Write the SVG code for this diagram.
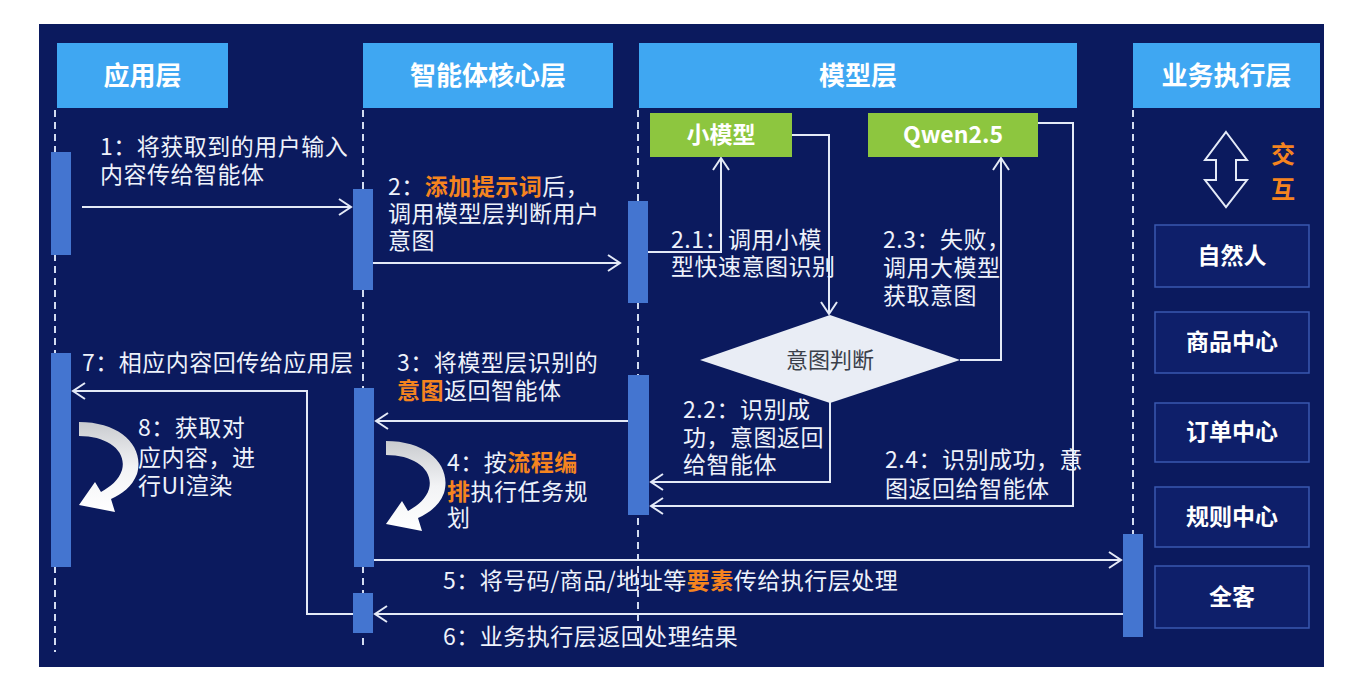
<svg xmlns="http://www.w3.org/2000/svg" width="1362" height="684" viewBox="0 0 1362 684">
<defs>
<style>
.hdr{fill:#3fa7f2}
.hdrt{font-family:"Noto Sans CJK SC","Noto Sans",sans-serif;font-size:26px;font-weight:bold;fill:#ffffff;text-anchor:middle}
.t{font-family:"Noto Sans CJK SC","Noto Sans",sans-serif;font-size:23px;letter-spacing:0.5px;fill:#eef2fb}
.o{fill:#f5841f;font-weight:bold}
.bar{fill:#4475d0}
.life{stroke:#d3dcf0;stroke-width:2;stroke-dasharray:7 5;fill:none}
.ln{stroke:#e4eaf7;stroke-width:2;fill:none}
.arr{marker-end:url(#ah)}
.green{fill:#8dc63f}
.gt{font-family:"Noto Sans CJK SC","Noto Sans",sans-serif;font-size:23px;font-weight:bold;fill:#ffffff;text-anchor:middle}
.box{fill:#0e1f6a;stroke:#3a58b0;stroke-width:1.5}
.bt{font-family:"Noto Sans CJK SC","Noto Sans",sans-serif;font-size:23px;font-weight:bold;fill:#ffffff;text-anchor:middle}
</style>
<marker id="ah" markerUnits="userSpaceOnUse" markerWidth="16" markerHeight="18" refX="13" refY="9" orient="auto">
<path d="M1,1 L13,9 L1,17" fill="none" stroke="#e4eaf7" stroke-width="2"/>
</marker>
<linearGradient id="cg" x1="0" y1="0" x2="0" y2="1">
<stop offset="0" stop-color="#c9cbcf"/>
<stop offset="0.5" stop-color="#f2f3f5"/>
<stop offset="1" stop-color="#ffffff"/>
</linearGradient>
<path id="curl" d="M0 0 C42 0 66 25 58 52 C53 65 43 72 32 77 L36 90 L0 83 L16 60 L22 70 C31 65 40 58 43 48 C48 29 29 14 0 14 Z" fill="url(#cg)"/>
</defs>

<rect x="39" y="24" width="1285" height="643" fill="#0b1a5e"/>

<g id="lifelines">
<line class="life" x1="55" y1="110" x2="55" y2="652"/>
<line class="life" x1="363" y1="110" x2="363" y2="648"/>
<line class="life" x1="638" y1="110" x2="638" y2="648"/>
<line class="life" x1="1133" y1="110" x2="1133" y2="534"/>
</g>

<g id="header-app"><rect class="hdr" x="57" y="43" width="171" height="65"/><text class="hdrt" x="142.5" y="85">应用层</text></g>
<g id="header-core"><rect class="hdr" x="363" y="43" width="250" height="65"/><text class="hdrt" x="488" y="85">智能体核心层</text></g>
<g id="header-model"><rect class="hdr" x="639" y="43" width="438" height="65"/><text class="hdrt" x="858" y="85">模型层</text></g>
<g id="header-exec"><rect class="hdr" x="1133" y="43" width="187" height="65"/><text class="hdrt" x="1226.5" y="85">业务执行层</text></g>

<g id="bars">
<rect class="bar" x="51" y="152" width="20" height="103"/>
<rect class="bar" x="51" y="353" width="20" height="214"/>
<rect class="bar" x="353" y="189" width="20" height="101"/>
<rect class="bar" x="354" y="388" width="20" height="179"/>
<rect class="bar" x="353" y="593" width="20" height="40"/>
<rect class="bar" x="628" y="201" width="20" height="102"/>
<rect class="bar" x="628" y="375" width="21" height="140"/>
<rect class="bar" x="1123" y="534" width="20" height="103"/>
</g>

<g id="connectors">
<line class="ln arr" x1="82" y1="207" x2="351" y2="207"/>
<line class="ln arr" x1="373" y1="263" x2="620" y2="263"/>
<polyline class="ln arr" points="648,252 721,252 721,158"/>
<polyline class="ln arr" points="792,135 829,135 829,314"/>
<polyline class="ln arr" points="960,360 1001,360 1001,158"/>
<polyline class="ln arr" points="830,402 830,482 651,482"/>
<polyline class="ln arr" points="1038,123 1073,123 1073,506 651,506"/>
<line class="ln arr" x1="628" y1="421" x2="376" y2="421"/>
<line class="ln arr" x1="374" y1="560" x2="1121" y2="560"/>
<line class="ln arr" x1="1123" y1="614" x2="375" y2="614"/>
<polyline class="ln arr" points="353,614 307,614 307,391 73,391"/>
<use href="#curl" x="386" y="441"/>
<use href="#curl" x="79" y="422"/>
</g>

<g id="small-model"><rect class="green" x="650" y="113" width="142" height="44"/><text class="gt" x="721" y="143">小模型</text></g>
<g id="qwen"><rect class="green" x="868" y="113" width="170" height="44"/><text class="gt" x="953" y="143">Qwen2.5</text></g>
<g id="intent-judge"><polygon points="700,360 830,315 960,360 830,403" fill="#e9edf5"/><text x="830" y="368" font-family="'Noto Sans CJK SC',sans-serif" font-size="22" fill="#3a3f4a" text-anchor="middle">意图判断</text></g>

<g id="interaction">
<path d="M1226,132 L1247,160 L1236,160 L1236,180 L1247,180 L1226,207 L1205,180 L1216,180 L1216,160 L1205,160 Z" fill="none" stroke="#e4eaf7" stroke-width="2"/>
<text x="1283" y="163" font-family="'Noto Sans CJK SC',sans-serif" font-size="24" font-weight="bold" fill="#f5841f" text-anchor="middle">交</text>
<text x="1283" y="198" font-family="'Noto Sans CJK SC',sans-serif" font-size="24" font-weight="bold" fill="#f5841f" text-anchor="middle">互</text>
</g>
<g id="box-person"><rect class="box" x="1155" y="225" width="154" height="62"/><text class="bt" x="1232" y="264">自然人</text></g>
<g id="box-goods"><rect class="box" x="1155" y="312" width="154" height="61"/><text class="bt" x="1232" y="350">商品中心</text></g>
<g id="box-order"><rect class="box" x="1155" y="403" width="154" height="59"/><text class="bt" x="1232" y="440">订单中心</text></g>
<g id="box-rule"><rect class="box" x="1155" y="487" width="154" height="60"/><text class="bt" x="1232" y="525">规则中心</text></g>
<g id="box-all"><rect class="box" x="1155" y="566" width="154" height="62"/><text class="bt" x="1232" y="605">全客</text></g>

<g id="labels">
<text class="t" x="100" y="155">1：将获取到的用户输入<tspan x="100" dy="28">内容传给智能体</tspan></text>
<text class="t" x="388" y="195">2：<tspan class="o">添加提示词</tspan>后，<tspan x="388" dy="27">调用模型层判断用户</tspan><tspan x="388" dy="27">意图</tspan></text>
<text class="t" x="671" y="248">2.1：调用小模<tspan x="671" dy="27">型快速意图识别</tspan></text>
<text class="t" x="883" y="248">2.3：失败，<tspan x="883" dy="28">调用大模型</tspan><tspan x="883" dy="28">获取意图</tspan></text>
<text class="t" x="82" y="371">7：相应内容回传给应用层</text>
<text class="t" x="397" y="371">3：将模型层识别的<tspan x="397" dy="28"><tspan class="o">意图</tspan>返回智能体</tspan></text>
<text class="t" x="683" y="418">2.2：识别成<tspan x="683" dy="28">功，意图返回</tspan><tspan x="683" dy="27">给智能体</tspan></text>
<text class="t" x="885" y="468">2.4：识别成功，意<tspan x="885" dy="29">图返回给智能体</tspan></text>
<text class="t" x="138" y="436">8：获取对<tspan x="138" dy="30">应内容，进</tspan><tspan x="138" dy="28">行UI渲染</tspan></text>
<text class="t" x="447" y="471">4：按<tspan class="o">流程编</tspan><tspan x="447" dy="29"><tspan class="o">排</tspan>执行任务规</tspan><tspan x="447" dy="26">划</tspan></text>
<text class="t" x="443" y="589">5：将号码/商品/地址等<tspan class="o">要素</tspan>传给执行层处理</text>
<text class="t" x="443" y="645">6：业务执行层返回处理结果</text>
</g>
</svg>
